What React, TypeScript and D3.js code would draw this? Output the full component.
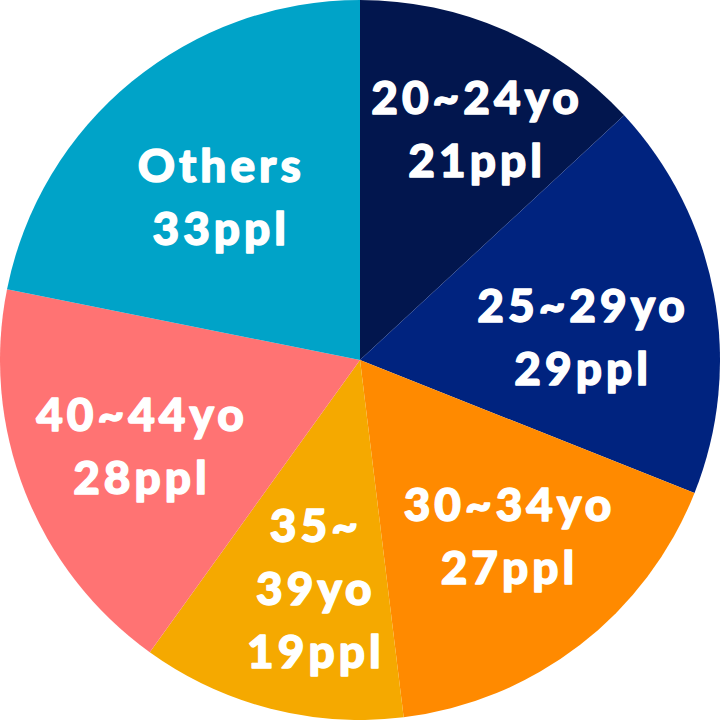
import React from "react";
import * as d3 from "d3";

const ageGroups = ["20~24yo", "25~29yo", "30~34yo", "35~39yo", "40~44yo", "Others"];
const people = [21, 29, 27, 19, 28, 33];
const sliceShares = [21, 28.7, 27.3, 19.0, 29.2, 35.0];
const labelLines = [
  ["20~24yo", "21ppl"],
  ["25~29yo", "29ppl"],
  ["30~34yo", "27ppl"],
  ["35~", "39yo", "19ppl"],
  ["40~44yo", "28ppl"],
  ["Others", "33ppl"],
];
const colors = ["#02164e", "#00237f", "#ff8a00", "#f5a900", "#ff7373", "#00a3c8"];
// label nudges from the slice centroid (style)
const labelNudge = [
  [23, -20],
  [-5, 19],
  [7, -6],
  [11, 6],
  [-6, 2],
  [5, 15],
];

const W = 720;
const H = 720;
const R = 360;
const LABEL_R = 230;
const FONT = 46;
const LINE = 63;
const CAP = 33;
const LS = 4;

export default function App() {
  const data = ageGroups.map((g, i) => ({ g, v: sliceShares[i], n: people[i], i }));
  const pie = d3.pie<any>().value((d) => d.v).sort(null);
  const arcs = pie(data);
  const arcGen = d3.arc<any>().innerRadius(0).outerRadius(R);
  const labelArc = d3.arc<any>().innerRadius(LABEL_R).outerRadius(LABEL_R);

  return (
    <svg width={W} height={H} style={{ position: "absolute", left: 0, top: 0 }}>
      <g transform={`translate(${W / 2},${H / 2})`}>
        {arcs.map((a, i) => (
          <path key={i} d={arcGen(a) as string} fill={colors[i]} />
        ))}
        {arcs.map((a, i) => {
          const [c0, c1] = labelArc.centroid(a);
          const cx = c0 + labelNudge[i][0] + LS / 2;
          const cy = c1 + labelNudge[i][1];
          const lines = labelLines[i];
          const n = lines.length;
          const b1 = cy - ((n - 1) * LINE - CAP) / 2;
          return (
            <text
              key={i}
              textAnchor="middle"
              fill="#fff"
              stroke="#fff"
              strokeWidth={1.4}
              strokeLinejoin="round"
              fontFamily="Lato, 'Noto Sans', sans-serif"
              fontWeight={900}
              fontSize={FONT}
              letterSpacing={LS}
            >
              {lines.map((t, j) => (
                <tspan key={j} x={cx} y={b1 + j * LINE}>
                  {t}
                </tspan>
              ))}
            </text>
          );
        })}
      </g>
    </svg>
  );
}
